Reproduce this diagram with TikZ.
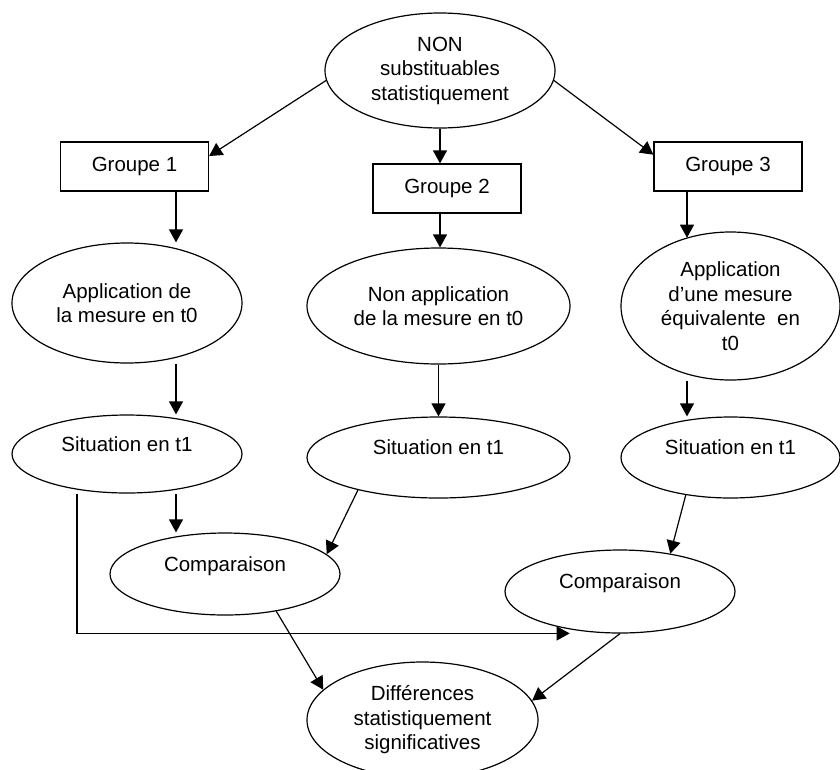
\documentclass[tikz,border=0pt]{standalone}
\usepackage{fontspec}
\setmainfont{Liberation Sans}
\usetikzlibrary{shapes.geometric,arrows.meta}

\begin{document}
\begin{tikzpicture}[x=1pt, y=-1pt, line width=1.2pt, >={Triangle[length=13pt,width=14pt]},
  every node/.style={font=\fontsize{20.5}{24.5}\selectfont, align=center, inner sep=0pt},
  ell/.style={ellipse, draw},
  boite/.style={rectangle, draw, minimum width=148pt, minimum height=49pt},
  haut/.style={text depth=20pt}]
  \useasboundingbox (0,0) rectangle (840,769);
  \clip (0,0) rectangle (840,769);

  % sommet
  \node[ell, minimum width=230pt, minimum height=115pt] (nonsub) at (440,70.5) {NON\\substituables\\statistiquement};

  % groupes
  \node[boite] (grp1) at (134.5,166.5) {Groupe 1};
  \node[boite] (grp2) at (447,188.5) {Groupe 2};
  \node[boite] (grp3) at (728,166.5) {Groupe 3};

  % mesures en t0
  \node[ell, minimum width=230pt, minimum height=120pt] (app1) at (127,303) {Application de\\la mesure en t0};
  \node[ell, minimum width=263pt, minimum height=116pt] (app2) at (438.5,306) {Non application\\de la mesure en t0};
  \node[ell, minimum width=219pt, minimum height=148pt] (app3) at (730.5,306) {Application\\d’une mesure\\équivalente~~en\\t0};

  % situations en t1
  \node[ell, haut, minimum width=230pt, minimum height=78pt] (sit1) at (127,454) {Situation en t1};
  \node[ell, haut, minimum width=263pt, minimum height=81pt] (sit2) at (438.5,457.5) {Situation en t1};
  \node[ell, haut, minimum width=219pt, minimum height=81pt] (sit3) at (730.5,457.5) {Situation en t1};

  % comparaisons
  \node[ell, haut, minimum width=230pt, minimum height=82pt] (cmp1) at (225,574) {Comparaison};
  \node[ell, haut, minimum width=230pt, minimum height=83pt] (cmp2) at (620,591.5) {Comparaison};

  \node[ell, minimum width=231pt, minimum height=116pt] (diff) at (422.5,720) {Différences\\statistiquement\\significatives};

  % fleches
  \draw[->] (nonsub.185) -- (grp1.8);
  \draw[->] (nonsub.south) -- (nonsub.south |- grp2.north);
  \draw[->] (nonsub.-5) -- (grp3.171);

  \draw[->] ([xshift=41.5pt]grp1.south) -- ([xshift=41.5pt]grp1.south |- app1.north);
  \draw[->] ([xshift=-7pt]grp2.south) -- ([xshift=-7pt]grp2.south |- app2.north);
  \draw[->] ([xshift=-41pt]grp3.south) -- ([xshift=-41pt]grp3.south |- app3.123);

  \draw[->] ([xshift=49pt]app1.south) -- ([xshift=49pt]app1.south |- sit1.north);
  \draw[->] (app2.south) -- (sit2.north);
  \draw[->] ([xshift=-43.5pt]app3.south) -- ([xshift=-43.5pt]app3.south |- sit3.north);

  \draw[->] ([xshift=49pt]sit1.south) -- ([xshift=49pt]sit1.south |- cmp1.north);
  \draw[->] (sit2.202) -- (cmp1.11);
  \draw[->] (sit3.220) -- (cmp2.37);
  \draw[->] ([xshift=-50pt]sit1.south) |- ([yshift=-4pt]cmp2.217);

  \draw[->] (cmp1.-36) -- (diff.163);
  \draw[->] (cmp2.south) -- (diff.10);
\end{tikzpicture}
\end{document}
